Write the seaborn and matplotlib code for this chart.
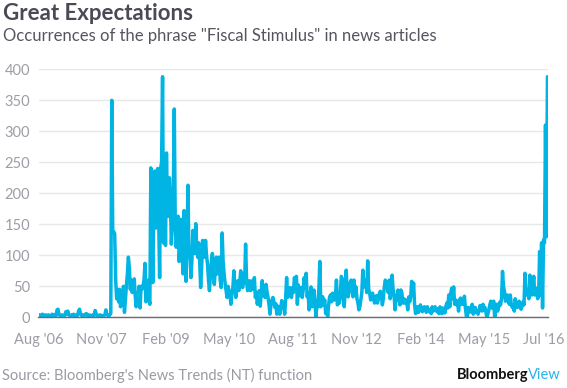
import pandas as pd
import seaborn as sns
import matplotlib.pyplot as plt

sns.set_style("white")
plt.rcParams['font.family'] = ['Lato', 'DejaVu Sans']

# === Weekly occurrence counts, first week ending Aug 4 2006 ===
wk_2006 = [3, 4, 2, 3, 5, 3, 2, 4, 3, 2, 4, 3, 2, 3, 5, 3, 4, 2, 3, 12, 13, 4]
wk_2007 = [3, 2, 4, 3, 2, 3, 9, 5, 10, 4, 3, 2, 4, 3, 5, 3, 2, 4, 3, 10,
           13, 6, 3, 4, 2, 3, 5, 6, 3, 2, 4, 3, 2, 3, 4, 3, 11, 6, 3, 2,
           3, 4, 2, 3, 2, 3, 4, 12, 5, 3, 2, 4]
wk_2008 = [6, 350, 136, 138, 135, 60, 30, 45, 25, 45, 17, 40, 30, 50, 8, 30,
           51, 70, 97, 80, 45, 60, 40, 58, 62, 35, 17, 40, 20, 50, 15, 50,
           45, 50, 60, 87, 25, 45, 60, 30, 21, 241, 150, 56, 180, 236, 144,
           200, 240, 160, 64, 240]
wk_2009 = [250, 388, 120, 230, 116, 265, 180, 163, 225, 190, 118, 150, 200,
           336, 150, 113, 140, 163, 90, 120, 158, 110, 70, 172, 100, 58, 120,
           213, 97, 110, 64, 90, 140, 120, 103, 151, 110, 97, 120, 90, 48, 80,
           124, 100, 97, 124, 100, 86, 60, 43, 70, 90]
wk_2010 = [103, 70, 53, 80, 97, 70, 85, 97, 60, 48, 136, 90, 70, 55, 43, 32,
           50, 43, 35, 21, 40, 48, 75, 45, 32, 50, 59, 43, 55, 75, 60, 48, 70,
           55, 118, 60, 43, 50, 59, 43, 50, 59, 45, 64, 32, 40, 21, 35, 43, 18,
           40, 59, 35]
wk_2011 = [40, 32, 53, 40, 32, 20, 5, 21, 28, 32, 25, 16, 22, 5, 18, 12, 5,
           15, 27, 16, 20, 5, 30, 64, 32, 40, 48, 38, 32, 48, 40, 64, 50, 66,
           21, 52, 43, 35, 48, 32, 45, 64, 50, 71, 33, 40, 12, 30, 49, 17, 30,
           44]
wk_2012 = [25, 1, 20, 17, 45, 90, 17, 30, 33, 20, 28, 6, 15, 1, 20, 33, 36,
           25, 39, 30, 28, 35, 60, 20, 30, 23, 40, 66, 62, 30, 17, 45, 76, 40,
           33, 55, 45, 60, 40, 33, 60, 40, 49, 30, 23, 12, 17, 28, 40, 76, 49,
           60]
wk_2013 = [60, 40, 91, 45, 39, 28, 35, 39, 30, 23, 28, 35, 23, 30, 39, 42, 35,
           20, 30, 49, 60, 55, 49, 40, 60, 30, 39, 68, 45, 36, 12, 33, 28, 44,
           33, 20, 44, 39, 23, 30, 23, 28, 25, 12, 33, 25, 33, 58, 40, 55, 20,
           6]
wk_2014 = [10, 17, 8, 12, 20, 12, 9, 14, 17, 12, 8, 17, 12, 9, 12, 6, 17, 10,
           12, 17, 12, 9, 14, 6, 17, 10, 6, 15, 12, 7, 17, 23, 15, 36, 17, 39,
           47, 30, 49, 21, 28, 20, 26, 10, 28, 31, 21, 28, 21, 34, 15, 2]
wk_2015 = [0, 16, 8, 10, 15, 21, 5, 12, 16, 8, 10, 5, 12, 19, 15, 10, 21, 12,
           16, 8, 0, 5, 12, 20, 26, 15, 20, 26, 0, 12, 21, 10, 16, 24, 20, 30,
           74, 50, 42, 26, 30, 36, 25, 21, 36, 20, 16, 20, 10, 30, 20, 16]
wk_2016 = [20, 26, 16, 13, 19, 25, 20, 71, 40, 36, 42, 30, 68, 45, 36, 50, 66,
           36, 40, 47, 30, 36, 106, 36, 120, 15, 125, 120, 310, 130, 388]

tick_dates = ["2006-08-04", "2007-11-01", "2009-02-01", "2010-05-01",
              "2011-08-01", "2012-11-01", "2014-02-01", "2015-05-01",
              "2016-07-01"]
tick_labels = ["Aug '06", "Nov '07", "Feb '09", "May '10", "Aug '11",
               "Nov '12", "Feb '14", "May '15", "Jul '16"]
y_ticks = [0, 50, 100, 150, 200, 250, 300, 350, 400]

counts = (wk_2006 + wk_2007 + wk_2008 + wk_2009 + wk_2010 + wk_2011 +
          wk_2012 + wk_2013 + wk_2014 + wk_2015 + wk_2016)
weeks = pd.date_range("2006-08-04", periods=len(counts), freq="7D")
df = pd.DataFrame({"week": weeks, "count": counts})

# === Figure ===
W, H = 567, 388
fig = plt.figure(figsize=(W / 100, H / 100), dpi=100)
ax = fig.add_axes([38.5 / W, 1 - 317.3 / H, (548 - 38.5) / W, (317.3 - 69.3) / H])

sns.lineplot(data=df, x="week", y="count", color="#00b4e4", lw=2.5, ax=ax)

ax.set_ylim(0, 400)
ax.set_xlim(weeks[0], weeks[-1] + pd.Timedelta(days=4))
ax.set_yticks(y_ticks)
ax.set_xticks(pd.to_datetime(tick_dates))
ax.set_xticklabels(tick_labels)
ax.set_xlabel("")
ax.set_ylabel("")

ax.yaxis.grid(True, color="#e8e8e8", lw=1)
ax.set_axisbelow(True)
for side in ["top", "left", "right"]:
    ax.spines[side].set_visible(False)
ax.spines["bottom"].set_color("#6a6a72")
ax.spines["bottom"].set_linewidth(1)

ax.tick_params(axis="x", length=5.5, width=1, color="#6a6a72",
               labelcolor="#9d9da6", labelsize=10.5, pad=6)
ax.tick_params(axis="y", length=0, labelcolor="#9d9da6", labelsize=10.5, pad=6)

# === Text ===
fig.text(3 / W, 1 - 14 / H, "Great Expectations", fontsize=16,
         fontweight="bold", color="#4a4a57", va="center")
fig.text(3 / W, 1 - 36 / H,
         'Occurrences of the phrase "Fiscal Stimulus" in news articles',
         fontsize=12, color="#55555f", va="center")
fig.text(2 / W, 1 - 375 / H, "Source: Bloomberg's News Trends (NT) function",
         fontsize=10.5, color="#9a9aa2", va="center")
fig.text(528 / W, 1 - 375 / H, "Bloomberg", fontsize=10.5, fontweight="bold",
         color="#111111", va="center", ha="right")
fig.text(528 / W, 1 - 375 / H, "View", fontsize=10.5, color="#2ab4e6",
         va="center", ha="left")

fig.savefig("out.png", dpi=100)
